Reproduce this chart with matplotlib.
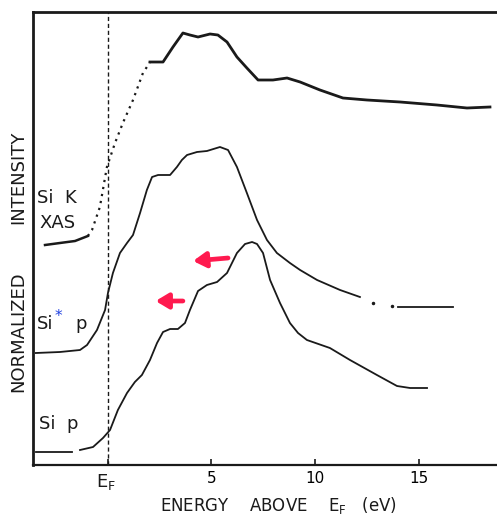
import matplotlib
matplotlib.use("Agg")
import matplotlib.pyplot as plt

# Si K XAS (top curve), energy above E_F in eV vs normalized intensity (arb. units)
xas_e_lead = [-3.04, -2.32, -1.59, -0.97]
xas_i_lead = [220, 222, 224, 229]
xas_e_dot = [-0.97, -0.77, -0.39, -0.05, 0.34, 0.72, 1.21, 1.69, 1.88, 2.03]
xas_i_dot = [229, 235, 258, 298, 322, 342, 365, 392, 398, 403]
xas_e = [2.03, 2.17, 2.66, 3.14, 3.62, 3.96, 4.35, 4.93, 5.31, 5.75, 6.23, 6.71,
         7.25, 7.97, 8.65, 9.28, 10.24, 11.35, 12.51, 14.11, 15.89, 17.34, 18.45]
xas_i = [403, 403, 403, 418, 432, 430, 428, 431, 430, 423, 408, 397,
         385, 385, 387, 383, 375, 367, 365, 363, 360, 357, 358]

# Si* p partial DOS (middle curve)
sistar_e = [-3.48, -2.32, -1.35, -1.01, -0.53, -0.14, 0.00, 0.24, 0.58, 0.92, 1.21,
            1.55, 1.88, 2.13, 2.42, 3.00, 3.33, 3.57, 3.82, 4.30, 4.78, 5.41, 5.80,
            6.23, 6.71, 7.20, 7.68, 8.16, 8.79, 9.28, 10.10, 11.21, 12.17]
sistar_i = [112, 113, 115, 120, 135, 155, 172, 192, 212, 222, 230,
            252, 275, 288, 290, 290, 298, 305, 310, 313, 314, 318, 315,
            298, 272, 245, 225, 212, 202, 195, 185, 175, 168]
sistar_e_tail = [14.01, 16.67]
sistar_i_tail = [158, 158]
sistar_e_dots = [12.80, 13.72]
sistar_i_dots = [162, 159]

# Si p partial DOS (bottom curve)
sip_e_lead = [-3.48, -1.74]
sip_i_lead = [13, 13]
sip_e = [-1.35, -0.72, -0.24, 0.10, 0.48, 0.92, 1.30, 1.64, 2.03, 2.37, 2.66, 3.00,
         3.38, 3.72, 3.96, 4.35, 4.78, 5.27, 5.75, 6.23, 6.62, 6.96, 7.20, 7.49,
         7.83, 8.31, 8.79, 9.18, 9.61, 10.72, 11.69, 12.99, 13.96, 14.59, 15.41]
sip_i = [15, 18, 27, 35, 55, 72, 83, 90, 105, 122, 133, 136,
         136, 142, 155, 174, 180, 183, 192, 212, 221, 223, 221, 212,
         185, 162, 142, 132, 125, 117, 105, 90, 79, 77, 77]

# red arrows (start -> tip) marking the shift of the Si* p peaks
arrow_start_e = [5.80, 3.62]
arrow_start_i = [207, 164]
arrow_tip_e = [4.11, 2.30]
arrow_tip_i = [204, 164]

tick_pos = [0, 5, 10, 15]
tick_labels = ["", "5", "10", "15"]

W, H = 497, 524
fig = plt.figure(figsize=(W / 100, H / 100), dpi=100)
ax = fig.add_axes([33 / W, (H - 465) / H, (W - 33) / W, (465 - 12) / H])

ax.set_xlim(-3.62, 18.79)
ax.set_ylim(0, 453)

ink = "#1a1a1a"
ax.plot(xas_e_lead, xas_i_lead, color=ink, lw=1.8)
ax.plot(xas_e_dot, xas_i_dot, color=ink, lw=1.6, ls=(0, (1, 2.2)))
ax.plot(xas_e, xas_i, color=ink, lw=2.0)

ax.plot(sistar_e, sistar_i, color=ink, lw=1.3)
ax.plot(sistar_e_tail, sistar_i_tail, color=ink, lw=1.3)
ax.plot(sistar_e_dots, sistar_i_dots, ls="none", marker="o", ms=1.5, color=ink)

ax.plot(sip_e_lead, sip_i_lead, color=ink, lw=1.3)
ax.plot(sip_e, sip_i, color=ink, lw=1.3)

# Fermi level
ax.axvline(0, color=ink, lw=1.0, ls=(0, (3, 2)))

for x0, y0, x1, y1 in zip(arrow_start_e, arrow_start_i, arrow_tip_e, arrow_tip_i):
    ax.annotate("", xy=(x1, y1), xytext=(x0, y0),
                arrowprops=dict(arrowstyle="-|>,head_length=0.75,head_width=0.45",
                                color="#ff1a4f", lw=3.4, shrinkA=0, shrinkB=0))

ax.spines["right"].set_visible(False)
ax.spines["left"].set_linewidth(2.0)
ax.spines["top"].set_linewidth(2.0)
ax.spines["bottom"].set_linewidth(1.6)
for s in ax.spines.values():
    s.set_color(ink)

ax.set_yticks([])
ax.set_xticks(tick_pos)
ax.set_xticklabels(tick_labels, fontsize=11)
ax.tick_params(axis="x", direction="in", length=4, width=1.2, color=ink, pad=4)


def ftxt(x, y, s, **kw):
    fig.text(x / W, 1 - y / H, s, color=ink, **kw)


ftxt(18, 177, "INTENSITY", rotation=90, ha="center", va="center", fontsize=13)
ftxt(18, 332, "NORMALIZED", rotation=90, ha="center", va="center", fontsize=13)

ftxt(37, 198, "Si  K", ha="left", va="center", fontsize=13)
ftxt(39, 223, "XAS", ha="left", va="center", fontsize=13)
ftxt(37, 324, "Si", ha="left", va="center", fontsize=13)
fig.text(55 / W, 1 - 316 / H, "*", color="#2040e0", ha="left", va="center", fontsize=11)
ftxt(75, 324, "p", ha="left", va="center", fontsize=13)
ftxt(39, 424, "Si  p", ha="left", va="center", fontsize=13)

ftxt(106, 482, r"E$_\mathregular{F}$", ha="center", va="center", fontsize=13)
ftxt(278, 505, r"ENERGY    ABOVE    E$_\mathregular{F}$   (eV)",
     ha="center", va="center", fontsize=12)

fig.savefig("out.png", dpi=100, facecolor="white")
